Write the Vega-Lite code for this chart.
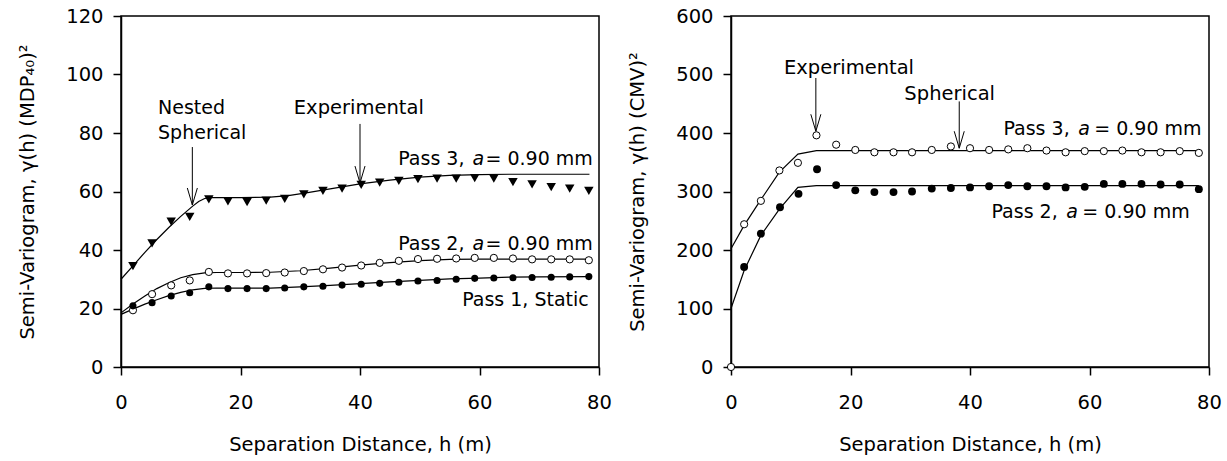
{
  "$schema": "https://vega.github.io/schema/vega-lite/v6.json",
  "padding": {"left": 17, "top": 5, "right": 5, "bottom": 0},
  "spacing": 14,
  "config": {
    "font": "DejaVu Sans",
    "view": {"stroke": "black", "strokeWidth": 1.5},
    "axis": {
      "grid": false,
      "domainColor": "black",
      "domainWidth": 1.5,
      "tickColor": "black",
      "tickWidth": 1.5,
      "tickSize": 8,
      "labelFont": "DejaVu Sans",
      "labelFontSize": 19.5,
      "labelColor": "black",
      "labelFlush": false,
      "labelOverlap": false,
      "titleFont": "DejaVu Sans",
      "titleFontSize": 19.5,
      "titleFontWeight": "normal",
      "titleColor": "black"
    },
    "axisX": {"labelPadding": 18, "titlePadding": 24},
    "axisY": {"labelPadding": 10, "titlePadding": 28}
  },
  "datasets": {
    "l_fit": [
      {"s": "p3", "h": 0, "v": 30.0}, {"s": "p3", "h": 2, "v": 34.6}, {"s": "p3", "h": 4, "v": 39.2}, {"s": "p3", "h": 6, "v": 43.6}, {"s": "p3", "h": 8, "v": 47.7}, {"s": "p3", "h": 10, "v": 51.5}, {"s": "p3", "h": 12, "v": 55.0}, {"s": "p3", "h": 13, "v": 56.6}, {"s": "p3", "h": 14, "v": 57.6}, {"s": "p3", "h": 15, "v": 57.9}, {"s": "p3", "h": 20, "v": 57.9}, {"s": "p3", "h": 25, "v": 58.1}, {"s": "p3", "h": 28, "v": 58.6}, {"s": "p3", "h": 31, "v": 59.5}, {"s": "p3", "h": 35, "v": 60.9}, {"s": "p3", "h": 40, "v": 62.6}, {"s": "p3", "h": 45, "v": 63.9}, {"s": "p3", "h": 50, "v": 64.9}, {"s": "p3", "h": 55, "v": 65.5}, {"s": "p3", "h": 60, "v": 65.8}, {"s": "p3", "h": 65, "v": 65.9}, {"s": "p3", "h": 78.4, "v": 65.9},
      {"s": "p2", "h": 0, "v": 18.5}, {"s": "p2", "h": 2, "v": 21.5}, {"s": "p2", "h": 4, "v": 24.3}, {"s": "p2", "h": 6, "v": 26.8}, {"s": "p2", "h": 8, "v": 28.8}, {"s": "p2", "h": 10, "v": 30.5}, {"s": "p2", "h": 12, "v": 31.6}, {"s": "p2", "h": 14, "v": 32.2}, {"s": "p2", "h": 16, "v": 32.3}, {"s": "p2", "h": 20, "v": 32.3}, {"s": "p2", "h": 25, "v": 32.4}, {"s": "p2", "h": 30, "v": 32.9}, {"s": "p2", "h": 35, "v": 33.8}, {"s": "p2", "h": 40, "v": 34.8}, {"s": "p2", "h": 45, "v": 35.7}, {"s": "p2", "h": 50, "v": 36.4}, {"s": "p2", "h": 55, "v": 36.8}, {"s": "p2", "h": 60, "v": 36.9}, {"s": "p2", "h": 78.4, "v": 36.9},
      {"s": "p1", "h": 0, "v": 18.0}, {"s": "p1", "h": 2, "v": 19.8}, {"s": "p1", "h": 4, "v": 21.5}, {"s": "p1", "h": 6, "v": 23.0}, {"s": "p1", "h": 8, "v": 24.4}, {"s": "p1", "h": 10, "v": 25.5}, {"s": "p1", "h": 12, "v": 26.4}, {"s": "p1", "h": 14, "v": 26.9}, {"s": "p1", "h": 16, "v": 27.0}, {"s": "p1", "h": 25, "v": 27.0}, {"s": "p1", "h": 30, "v": 27.4}, {"s": "p1", "h": 35, "v": 27.9}, {"s": "p1", "h": 40, "v": 28.5}, {"s": "p1", "h": 45, "v": 29.1}, {"s": "p1", "h": 50, "v": 29.6}, {"s": "p1", "h": 55, "v": 30.1}, {"s": "p1", "h": 60, "v": 30.4}, {"s": "p1", "h": 65, "v": 30.7}, {"s": "p1", "h": 70, "v": 30.8}, {"s": "p1", "h": 78.4, "v": 30.9}
    ],
    "l_p3": [
      {"h": 2.0, "v": 34.5}, {"h": 5.2, "v": 42.3}, {"h": 8.4, "v": 49.7}, {"h": 11.5, "v": 51.3}, {"h": 14.7, "v": 57.3}, {"h": 17.9, "v": 56.6}, {"h": 21.1, "v": 56.4}, {"h": 24.3, "v": 56.9}, {"h": 27.4, "v": 57.5}, {"h": 30.6, "v": 59.0}, {"h": 33.8, "v": 60.2}, {"h": 37.0, "v": 61.0}, {"h": 40.2, "v": 62.3}, {"h": 43.3, "v": 63.0}, {"h": 46.5, "v": 63.6}, {"h": 49.7, "v": 64.2}, {"h": 52.9, "v": 64.4}, {"h": 56.1, "v": 64.4}, {"h": 59.2, "v": 64.6}, {"h": 62.4, "v": 64.4}, {"h": 65.6, "v": 63.2}, {"h": 68.8, "v": 62.4}, {"h": 72.0, "v": 61.5}, {"h": 75.1, "v": 61.0}, {"h": 78.3, "v": 60.2}
    ],
    "l_p2": [
      {"h": 2.0, "v": 19.4}, {"h": 5.2, "v": 24.9}, {"h": 8.4, "v": 27.9}, {"h": 11.5, "v": 29.6}, {"h": 14.7, "v": 32.5}, {"h": 17.9, "v": 32.0}, {"h": 21.1, "v": 32.0}, {"h": 24.3, "v": 32.1}, {"h": 27.4, "v": 32.3}, {"h": 30.6, "v": 32.8}, {"h": 33.8, "v": 33.4}, {"h": 37.0, "v": 34.0}, {"h": 40.2, "v": 34.7}, {"h": 43.3, "v": 35.6}, {"h": 46.5, "v": 36.3}, {"h": 49.7, "v": 36.9}, {"h": 52.9, "v": 37.0}, {"h": 56.1, "v": 37.1}, {"h": 59.2, "v": 37.3}, {"h": 62.4, "v": 37.3}, {"h": 65.6, "v": 37.1}, {"h": 68.8, "v": 36.8}, {"h": 72.0, "v": 36.8}, {"h": 75.1, "v": 36.8}, {"h": 78.3, "v": 36.5}
    ],
    "l_p1": [
      {"h": 2.0, "v": 20.9}, {"h": 5.2, "v": 22.0}, {"h": 8.4, "v": 24.3}, {"h": 11.5, "v": 25.4}, {"h": 14.7, "v": 27.4}, {"h": 17.9, "v": 26.8}, {"h": 21.1, "v": 26.8}, {"h": 24.3, "v": 26.8}, {"h": 27.4, "v": 27.0}, {"h": 30.6, "v": 27.4}, {"h": 33.8, "v": 27.6}, {"h": 37.0, "v": 28.0}, {"h": 40.2, "v": 28.3}, {"h": 43.3, "v": 28.6}, {"h": 46.5, "v": 29.0}, {"h": 49.7, "v": 29.4}, {"h": 52.9, "v": 29.6}, {"h": 56.1, "v": 30.0}, {"h": 59.2, "v": 30.3}, {"h": 62.4, "v": 30.4}, {"h": 65.6, "v": 30.5}, {"h": 68.8, "v": 30.6}, {"h": 72.0, "v": 30.7}, {"h": 75.1, "v": 30.8}, {"h": 78.3, "v": 30.9}
    ],
    "l_arr": [
      {"h": 11.94, "v": 75.2, "h2": 11.94, "v2": 55.4}, {"h": 11.1, "v": 61.2, "h2": 11.94, "v2": 55.4}, {"h": 12.78, "v": 61.2, "h2": 11.94, "v2": 55.4},
      {"h": 40.0, "v": 83.1, "h2": 40.0, "v2": 62.9}, {"h": 39.16, "v": 68.7, "h2": 40.0, "v2": 62.9}, {"h": 40.84, "v": 68.7, "h2": 40.0, "v2": 62.9}
    ],
    "l_txt_l": [
      {"h": 6.2, "v": 86.4, "t": "Nested"}, {"h": 6.2, "v": 77.8, "t": "Spherical"},
      {"h": 46.4, "v": 69.1, "t": "Pass 3,"}, {"h": 61.0, "v": 69.1, "t": "= 0.90 mm"},
      {"h": 46.4, "v": 40.0, "t": "Pass 2,"}, {"h": 61.0, "v": 40.0, "t": "= 0.90 mm"},
      {"h": 57.1, "v": 20.9, "t": "Pass 1, Static"}
    ],
    "l_txt_c": [{"h": 39.8, "v": 86.4, "t": "Experimental"}],
    "l_txt_i": [{"h": 59.8, "v": 69.1, "t": "a"}, {"h": 59.8, "v": 40.0, "t": "a"}],
    "r_fit": [
      {"s": "p3", "h": 0, "v": 202}, {"s": "p3", "h": 2.2, "v": 242}, {"s": "p3", "h": 5.0, "v": 286}, {"s": "p3", "h": 8.1, "v": 333}, {"s": "p3", "h": 11.2, "v": 364}, {"s": "p3", "h": 14.3, "v": 370}, {"s": "p3", "h": 78.3, "v": 370},
      {"s": "p2", "h": 0, "v": 100}, {"s": "p2", "h": 2.2, "v": 165}, {"s": "p2", "h": 5.0, "v": 225}, {"s": "p2", "h": 8.1, "v": 270}, {"s": "p2", "h": 11.2, "v": 307}, {"s": "p2", "h": 14.3, "v": 310}, {"s": "p2", "h": 78.3, "v": 310}
    ],
    "r_p3": [
      {"h": 0, "v": 0}, {"h": 2.2, "v": 244}, {"h": 5.0, "v": 284}, {"h": 8.1, "v": 336}, {"h": 11.2, "v": 349}, {"h": 14.3, "v": 396}, {"h": 17.6, "v": 380}, {"h": 20.8, "v": 371}, {"h": 24.0, "v": 367}, {"h": 27.2, "v": 367}, {"h": 30.3, "v": 367}, {"h": 33.6, "v": 371}, {"h": 36.8, "v": 377}, {"h": 40.0, "v": 374}, {"h": 43.2, "v": 371}, {"h": 46.4, "v": 372}, {"h": 49.6, "v": 374}, {"h": 52.8, "v": 370}, {"h": 56.0, "v": 367}, {"h": 59.2, "v": 369}, {"h": 62.4, "v": 369}, {"h": 65.5, "v": 370}, {"h": 68.7, "v": 367}, {"h": 71.9, "v": 367}, {"h": 75.1, "v": 369}, {"h": 78.3, "v": 366}
    ],
    "r_p2": [
      {"h": 2.2, "v": 171}, {"h": 5.0, "v": 228}, {"h": 8.2, "v": 273}, {"h": 11.3, "v": 296}, {"h": 14.4, "v": 338}, {"h": 17.6, "v": 311}, {"h": 20.8, "v": 302}, {"h": 24.0, "v": 299}, {"h": 27.2, "v": 299}, {"h": 30.3, "v": 300}, {"h": 33.6, "v": 305}, {"h": 36.8, "v": 306}, {"h": 40.0, "v": 307}, {"h": 43.2, "v": 309}, {"h": 46.4, "v": 311}, {"h": 49.6, "v": 309}, {"h": 52.8, "v": 309}, {"h": 56.0, "v": 307}, {"h": 59.2, "v": 308}, {"h": 62.4, "v": 313}, {"h": 65.5, "v": 313}, {"h": 68.7, "v": 313}, {"h": 71.9, "v": 312}, {"h": 75.1, "v": 312}, {"h": 78.3, "v": 304}
    ],
    "r_arr": [
      {"h": 14.2, "v": 494, "h2": 14.2, "v2": 403}, {"h": 13.36, "v": 432, "h2": 14.2, "v2": 403}, {"h": 15.04, "v": 432, "h2": 14.2, "v2": 403},
      {"h": 38.2, "v": 454, "h2": 38.2, "v2": 374}, {"h": 37.36, "v": 403, "h2": 38.2, "v2": 374}, {"h": 39.04, "v": 403, "h2": 38.2, "v2": 374}
    ],
    "r_txt_l": [
      {"h": 45.6, "v": 397.1, "t": "Pass 3,"}, {"h": 60.8, "v": 397.1, "t": "= 0.90 mm"},
      {"h": 43.6, "v": 254.7, "t": "Pass 2,"}, {"h": 58.8, "v": 254.7, "t": "= 0.90 mm"}
    ],
    "r_txt_c": [{"h": 19.75, "v": 501.4, "t": "Experimental"}, {"h": 36.6, "v": 456.9, "t": "Spherical"}],
    "r_txt_i": [{"h": 59.1, "v": 397.1, "t": "a"}, {"h": 57.1, "v": 254.7, "t": "a"}]
  },
  "hconcat": [
    {
      "width": 478,
      "height": 351,
      "encoding": {
        "x": {"field": "h", "type": "quantitative", "scale": {"domain": [0, 80], "nice": false}, "axis": {"title": "Separation Distance, h (m)", "values": [0, 20, 40, 60, 80]}},
        "y": {"field": "v", "type": "quantitative", "scale": {"domain": [0, 120], "nice": false}, "axis": {"title": "Semi-Variogram, γ(h) (MDP₄₀)²", "values": [0, 20, 40, 60, 80, 100, 120]}}
      },
      "layer": [
        {"data": {"name": "l_fit"}, "mark": {"type": "line", "color": "black", "strokeWidth": 1.2}, "encoding": {"detail": {"field": "s"}}},
        {"data": {"name": "l_p3"}, "mark": {"type": "point", "shape": "triangle-down", "filled": true, "color": "black", "size": 90, "opacity": 1}},
        {"data": {"name": "l_p2"}, "mark": {"type": "point", "shape": "circle", "filled": true, "fill": "white", "stroke": "black", "strokeWidth": 1, "size": 52, "opacity": 1}},
        {"data": {"name": "l_p1"}, "mark": {"type": "point", "shape": "circle", "filled": true, "color": "black", "size": 50, "opacity": 1}},
        {"data": {"name": "l_arr"}, "mark": {"type": "rule", "color": "black", "strokeWidth": 1}, "encoding": {"x2": {"field": "h2"}, "y2": {"field": "v2"}}},
        {"data": {"name": "l_txt_l"}, "mark": {"type": "text", "align": "left", "baseline": "alphabetic", "fontSize": 19, "color": "black"}, "encoding": {"text": {"field": "t"}}},
        {"data": {"name": "l_txt_c"}, "mark": {"type": "text", "align": "center", "baseline": "alphabetic", "fontSize": 19.5, "color": "black"}, "encoding": {"text": {"field": "t"}}},
        {"data": {"name": "l_txt_i"}, "mark": {"type": "text", "align": "center", "baseline": "alphabetic", "fontSize": 19, "fontStyle": "italic", "color": "black"}, "encoding": {"text": {"field": "t"}}}
      ]
    },
    {
      "width": 478,
      "height": 351,
      "encoding": {
        "x": {"field": "h", "type": "quantitative", "scale": {"domain": [0, 80], "nice": false}, "axis": {"title": "Separation Distance, h (m)", "values": [0, 20, 40, 60, 80]}},
        "y": {"field": "v", "type": "quantitative", "scale": {"domain": [0, 600], "nice": false}, "axis": {"title": "Semi-Variogram, γ(h) (CMV)²", "values": [0, 100, 200, 300, 400, 500, 600]}}
      },
      "layer": [
        {"data": {"name": "r_fit"}, "mark": {"type": "line", "color": "black", "strokeWidth": 1.2}, "encoding": {"detail": {"field": "s"}}},
        {"data": {"name": "r_p3"}, "mark": {"type": "point", "shape": "circle", "filled": true, "fill": "white", "stroke": "black", "strokeWidth": 1, "size": 52, "opacity": 1}},
        {"data": {"name": "r_p2"}, "mark": {"type": "point", "shape": "circle", "filled": true, "color": "black", "size": 62, "opacity": 1}},
        {"data": {"name": "r_arr"}, "mark": {"type": "rule", "color": "black", "strokeWidth": 1}, "encoding": {"x2": {"field": "h2"}, "y2": {"field": "v2"}}},
        {"data": {"name": "r_txt_l"}, "mark": {"type": "text", "align": "left", "baseline": "alphabetic", "fontSize": 19, "color": "black"}, "encoding": {"text": {"field": "t"}}},
        {"data": {"name": "r_txt_c"}, "mark": {"type": "text", "align": "center", "baseline": "alphabetic", "fontSize": 19.5, "color": "black"}, "encoding": {"text": {"field": "t"}}},
        {"data": {"name": "r_txt_i"}, "mark": {"type": "text", "align": "center", "baseline": "alphabetic", "fontSize": 19, "fontStyle": "italic", "color": "black"}, "encoding": {"text": {"field": "t"}}}
      ]
    }
  ]
}
